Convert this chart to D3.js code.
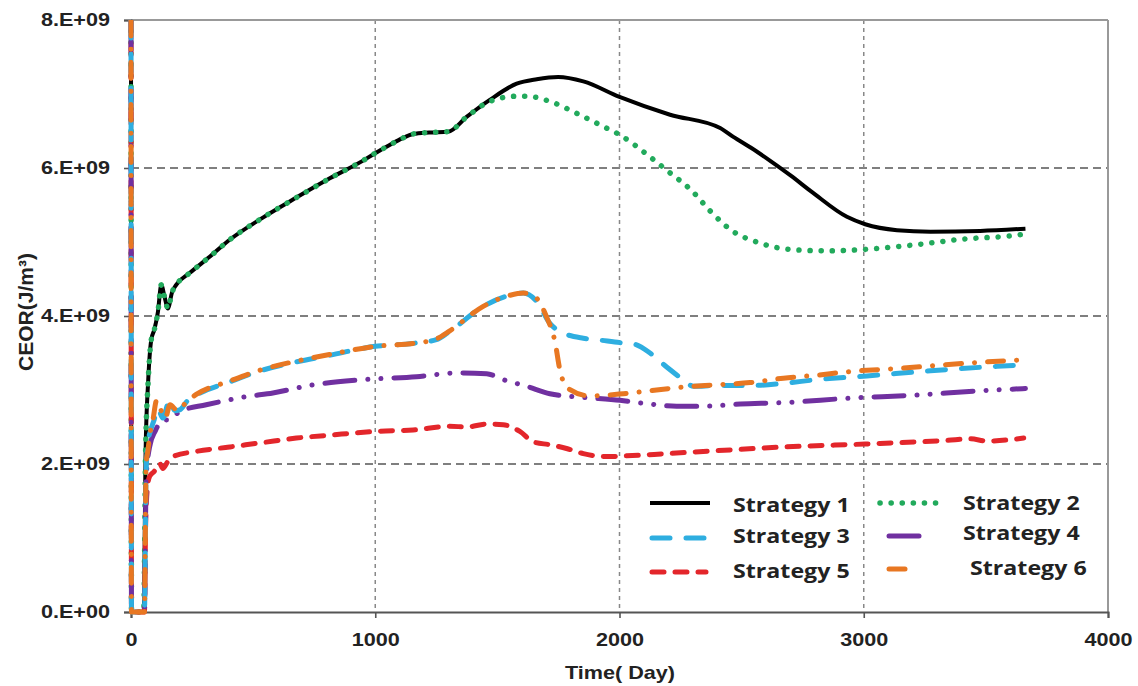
<!DOCTYPE html>
<html>
<head>
<meta charset="utf-8">
<script src="https://cdn.jsdelivr.net/npm/d3@7"></script>
<style>
  html, body { margin: 0; padding: 0; background: #fff; }
  svg { display: block; }
</style>
</head>
<body>
<svg id="chart" width="1138" height="686"></svg>
<script>
// CEOR (J/m^3) over time for six strategies; values in units of 1e9.
const xTicks = [0, 1000, 2000, 3000, 4000];
const yTicks = [0, 2e9, 4e9, 6e9, 8e9];
const yTickLabels = ["0.E+00", "2.E+09", "4.E+09", "6.E+09", "8.E+09"];
const seriesNames = ["Strategy 1", "Strategy 2", "Strategy 3", "Strategy 4", "Strategy 5", "Strategy 6"];

const strategy1 = [[0,8.0],[2,0],[52,0],[60,2.2],[70,3.1],[83,3.68],[96,3.82],[110,4.05],[124,4.42],[138,4.25],[151,4.10],[168,4.32],[185,4.42],[240,4.58],[322,4.80],[404,5.03],[540,5.33],[677,5.60],[814,5.86],[950,6.10],[1000,6.20],[1059,6.31],[1110,6.40],[1155,6.46],[1220,6.48],[1298,6.49],[1374,6.69],[1469,6.92],[1579,7.14],[1661,7.20],[1749,7.23],[1852,7.17],[2000,6.96],[2207,6.72],[2412,6.54],[2466,6.42],[2540,6.27],[2620,6.09],[2700,5.90],[2790,5.67],[2931,5.34],[3006,5.24],[3136,5.16],[3273,5.14],[3477,5.15],[3662,5.18]];
const strategy2 = [[0,8.0],[2,0],[52,0],[60,2.2],[70,3.1],[83,3.68],[96,3.82],[110,4.05],[124,4.42],[138,4.25],[151,4.10],[168,4.32],[185,4.42],[240,4.58],[322,4.80],[404,5.03],[540,5.33],[677,5.60],[814,5.86],[950,6.10],[1000,6.20],[1059,6.31],[1110,6.40],[1155,6.46],[1220,6.48],[1298,6.49],[1374,6.69],[1469,6.90],[1579,6.97],[1620,6.97],[1715,6.90],[1824,6.74],[1934,6.56],[2000,6.45],[2125,6.15],[2193,5.97],[2300,5.68],[2371,5.42],[2466,5.14],[2562,5.00],[2650,4.92],[2740,4.89],[2863,4.88],[3006,4.90],[3204,4.96],[3409,5.04],[3621,5.09],[3662,5.11]];
const strategy3 = [[0,8.0],[2,0],[55,0],[62,1.9],[70,2.3],[80,2.45],[95,2.6],[110,2.75],[130,2.62],[158,2.86],[180,2.72],[199,2.73],[230,2.85],[267,2.93],[404,3.11],[540,3.27],[677,3.38],[814,3.47],[1000,3.59],[1155,3.63],[1250,3.68],[1300,3.78],[1442,4.13],[1551,4.28],[1606,4.31],[1660,4.20],[1715,3.90],[1756,3.79],[1852,3.70],[1906,3.68],[2002,3.64],[2060,3.62],[2125,3.50],[2193,3.31],[2261,3.14],[2303,3.05],[2398,3.06],[2535,3.06],[2671,3.09],[2808,3.14],[3013,3.19],[3273,3.26],[3546,3.32],[3662,3.34]];
const strategy4 = [[0,8.0],[2,0],[55,0],[62,1.8],[76,2.23],[100,2.45],[130,2.59],[160,2.6],[199,2.71],[308,2.80],[472,2.91],[581,2.96],[745,3.07],[950,3.14],[1169,3.18],[1333,3.23],[1456,3.22],[1524,3.14],[1620,3.05],[1715,2.95],[1811,2.91],[1893,2.89],[2002,2.86],[2125,2.81],[2234,2.78],[2330,2.78],[2494,2.81],[2671,2.83],[2945,2.89],[3204,2.93],[3477,2.99],[3662,3.02]];
const strategy5 = [[0,8.0],[2,0],[55,0],[60,1.2],[68,1.7],[76,1.83],[95,1.9],[117,2.01],[130,1.94],[150,2.03],[171,2.10],[267,2.17],[404,2.23],[540,2.29],[677,2.35],[814,2.39],[1000,2.44],[1155,2.46],[1305,2.51],[1374,2.50],[1456,2.54],[1524,2.53],[1592,2.44],[1647,2.30],[1715,2.26],[1783,2.21],[1852,2.14],[1947,2.10],[2029,2.11],[2193,2.14],[2398,2.18],[2671,2.23],[3006,2.27],[3341,2.32],[3436,2.34],[3505,2.31],[3655,2.35]];
const strategy6 = [[0,8.0],[2,0],[55,0],[62,2.0],[70,2.2],[76,2.37],[90,2.6],[105,2.86],[120,2.75],[140,2.62],[160,2.8],[190,2.72],[230,2.85],[267,2.94],[404,3.12],[540,3.28],[677,3.39],[814,3.48],[1000,3.59],[1155,3.63],[1250,3.69],[1305,3.80],[1442,4.13],[1551,4.28],[1606,4.31],[1654,4.26],[1701,3.99],[1736,3.65],[1756,3.27],[1790,3.02],[1879,2.92],[2016,2.95],[2125,2.99],[2261,3.04],[2398,3.07],[2535,3.10],[2671,3.16],[2808,3.20],[2945,3.25],[3136,3.29],[3409,3.36],[3662,3.41]];

const svg = d3.select("#chart");
const pLeft = 131, pRight = 1108, pTop = 20, pBottom = 612;
const x = d3.scaleLinear().domain([0, 4000]).range([pLeft, pRight]);
const y = d3.scaleLinear().domain([0, 8e9]).range([pBottom, pTop]);
const STRETCH = 1.2;
const tickFont = "'Liberation Sans', Arial, sans-serif";

// grid
const grid = svg.append("g");
grid.selectAll("line.h").data(yTicks.slice(1, 4)).join("line")
  .attr("x1", pLeft).attr("x2", pRight)
  .attr("y1", d => y(d)).attr("y2", d => y(d))
  .attr("stroke", "#555").attr("stroke-width", 1.6).attr("stroke-dasharray", "8,5");
grid.selectAll("line.v").data(xTicks.slice(1, 4)).join("line")
  .attr("y1", pTop).attr("y2", pBottom)
  .attr("x1", d => x(d)).attr("x2", d => x(d))
  .attr("stroke", "#888").attr("stroke-width", 1.5).attr("stroke-dasharray", "4,4");
// frame: top and right edges
grid.append("line").attr("x1", pLeft).attr("x2", pRight).attr("y1", y(8e9)).attr("y2", y(8e9))
  .attr("stroke", "#999").attr("stroke-width", 2);
grid.append("line").attr("x1", pRight).attr("x2", pRight).attr("y1", pTop).attr("y2", pBottom)
  .attr("stroke", "#999").attr("stroke-width", 2);

// axes
const xAxis = svg.append("g").attr("transform", `translate(0,${pBottom})`)
  .call(d3.axisBottom(x).tickValues(xTicks).tickFormat(d3.format("d")).tickSize(6).tickPadding(15));
const yAxis = svg.append("g").attr("transform", `translate(${pLeft},0)`)
  .call(d3.axisLeft(y).tickValues(yTicks).tickFormat((d, i) => yTickLabels[i]).tickSize(7).tickPadding(10.5));
[xAxis, yAxis].forEach(a => {
  a.select(".domain").attr("stroke", "#555").attr("stroke-width", 2);
  a.selectAll(".tick line").attr("stroke", "#555").attr("stroke-width", 1.6);
  a.selectAll(".tick text")
    .attr("font-family", tickFont).attr("font-weight", "bold").attr("font-size", 18)
    .attr("fill", "#222").attr("transform", `scale(${STRETCH},1)`);
});

// axis titles
svg.append("text")
  .attr("transform", `translate(620,679) scale(${STRETCH},1)`)
  .attr("text-anchor", "middle")
  .attr("font-family", tickFont).attr("font-weight", "bold").attr("font-size", 18).attr("fill", "#222")
  .text("Time( Day)");
svg.append("text")
  .attr("transform", "translate(33,312) rotate(-90)")
  .attr("text-anchor", "middle")
  .attr("font-family", tickFont).attr("font-weight", "bold").attr("font-size", 21).attr("fill", "#222")
  .text("CEOR(J/m³)");

// series
svg.append("clipPath").attr("id", "plotClip").append("rect")
  .attr("x", pLeft - 3).attr("y", pTop).attr("width", pRight - pLeft + 3).attr("height", pBottom - pTop + 3);

const styles = [
  { data: strategy1, color: "#000000", width: 4, dash: null },
  { data: strategy2, color: "#22aa5c", width: 5.5, dash: "0.1,11" },
  { data: strategy5, color: "#e3262b", width: 5, dash: "12,11" },
  { data: strategy4, color: "#7030a0", width: 5, dash: "30,13,0.1,13,0.1,13" },
  { data: strategy3, color: "#2eaee0", width: 5, dash: "18,16" },
  { data: strategy6, color: "#e87722", width: 5, dash: "16,13,0.1,13" }
];
const line = d3.line().x(d => x(d[0])).y(d => y(d[1] * 1e9)).curve(d3.curveMonotoneX);
const plot = svg.append("g").attr("clip-path", "url(#plotClip)");
styles.forEach(s => {
  plot.append("path").datum(s.data)
    .attr("d", line)
    .attr("fill", "none")
    .attr("stroke", s.color)
    .attr("stroke-width", s.width)
    .attr("stroke-linecap", s.dash ? "round" : "butt")
    .attr("stroke-linejoin", "round")
    .attr("stroke-dasharray", s.dash);
});

// legend
const legendItems = [
  { name: seriesNames[0], s: styles[0], x0: 650, x1: 710, ly: 503, tx: 733, ty: 512 },
  { name: seriesNames[1], s: styles[1], x0: 880, x1: 942, ly: 503, tx: 963, ty: 510 },
  { name: seriesNames[2], s: styles[4], x0: 652, x1: 706, ly: 538, tx: 733, ty: 543 },
  { name: seriesNames[3], s: styles[3], x0: 889, x1: 924, ly: 536, tx: 963, ty: 540 },
  { name: seriesNames[4], s: styles[2], x0: 652, x1: 706, ly: 572, tx: 733, ty: 578 },
  { name: seriesNames[5], s: styles[5], x0: 889, x1: 915, ly: 569, tx: 970, ty: 575 }
];
const legend = svg.append("g");
legendItems.forEach(it => {
  legend.append("line")
    .attr("x1", it.x0).attr("x2", it.x1).attr("y1", it.ly).attr("y2", it.ly)
    .attr("stroke", it.s.color).attr("stroke-width", it.s.width)
    .attr("stroke-linecap", it.s.dash ? "round" : "butt")
    .attr("stroke-dasharray", it.s.dash);
  legend.append("text")
    .attr("transform", `translate(${it.tx},${it.ty}) scale(1.22,1)`)
    .attr("font-family", "'Open Sans', sans-serif").attr("font-weight", "bold")
    .attr("font-size", 19).attr("fill", "#222")
    .text(it.name);
});
</script>
</body>
</html>
